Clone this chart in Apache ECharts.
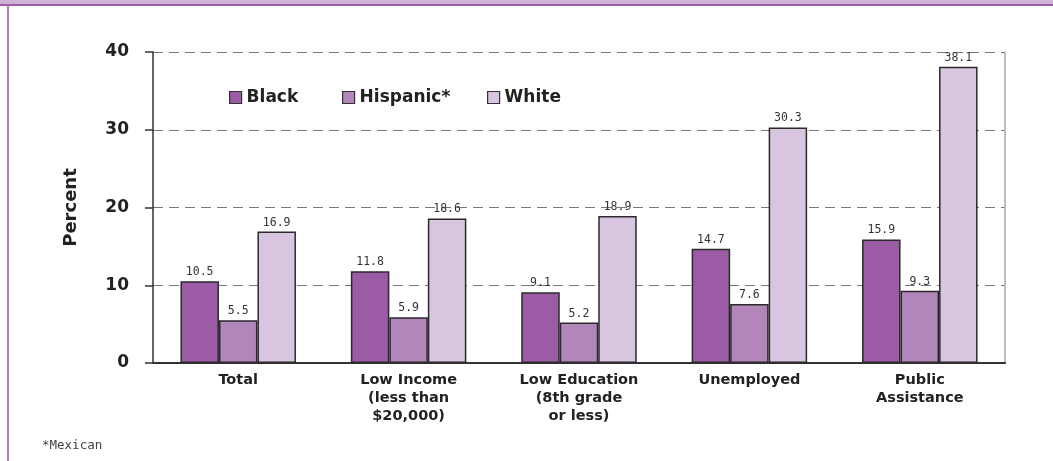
<!DOCTYPE html>
<html><head><meta charset="utf-8">
<script src="https://cdn.jsdelivr.net/npm/echarts@6/dist/echarts.min.js"></script>
<style>html,body{margin:0;padding:0;background:#fff}#c{width:1053px;height:461px}</style>
</head><body><div id="c"></div>
<script>
const categories = ['Total', 'Low Income\n(less than\n$20,000)', 'Low Education\n(8th grade\nor less)', 'Unemployed', 'Public\nAssistance'];
const black = [10.5, 11.8, 9.1, 14.7, 15.9];
const hispanic = [5.5, 5.9, 5.2, 7.6, 9.3];
const white = [16.9, 18.6, 18.9, 30.3, 38.1];
const seriesNames = ['Black', 'Hispanic*', 'White'];
const yTicks = [0, 10, 20, 30, 40];

const colors = ['#9b5ba5', '#b386bb', '#d8c5e0'];
const chart = echarts.init(document.getElementById('c'));
const labelStyle = {show: true, position: 'top', distance: 3, fontFamily: 'DejaVu Sans Mono', fontSize: 11.5, color: '#333'};
function mk(name, data, i) {
  return {name, type: 'bar', data, barWidth: 38.5, barGap: '0%',
    itemStyle: {color: colors[i], borderColor: '#2a2a2a', borderWidth: 1.5},
    label: labelStyle, emphasis: {disabled: true}};
}
const legendText = {fontFamily: 'DejaVu Sans', fontWeight: 'bold', fontSize: 17, color: '#222'};
function lg(name, left) {
  return {data: [name], left, top: 84, itemWidth: 12, itemHeight: 12, itemGap: 7, icon: 'rect',
    textStyle: legendText, selectedMode: false,
    itemStyle: {borderColor: '#333', borderWidth: 1.2}};
}
chart.setOption({
  animation: false,
  grid: {left: 153, right: 48, top: 52, bottom: 98},
  legend: [lg('Black', 224), lg('Hispanic*', 337), lg('White', 482)],
  xAxis: {type: 'category', data: categories,
    axisLine: {lineStyle: {color: '#333', width: 2}},
    axisTick: {show: false},
    axisLabel: {interval: 0, margin: 8, fontFamily: 'DejaVu Sans', fontWeight: 'bold', fontSize: 14.5, color: '#222', lineHeight: 18, align: 'center'}},
  yAxis: [{type: 'value', min: 0, max: 40, interval: 10,
    name: 'Percent', nameLocation: 'middle', nameGap: 73, nameRotate: 90,
    nameTextStyle: {fontFamily: 'DejaVu Sans', fontWeight: 'bold', fontSize: 18, color: '#222'},
    axisLine: {show: true, lineStyle: {color: '#333', width: 1.5}},
    axisTick: {show: true, inside: false, length: 8, lineStyle: {color: '#333', width: 1.5}},
    axisLabel: {margin: 24, fontFamily: 'DejaVu Sans', fontWeight: 'bold', fontSize: 17, color: '#222',
      formatter: v => yTicks.includes(v) ? String(v) : ''},
    splitLine: {show: true, lineStyle: {color: '#777', type: [10, 6], width: 1.2}}},
   {type: 'value', min: 0, max: 40, interval: 10, position: 'right',
    axisLine: {show: true, lineStyle: {color: '#aaa', width: 1.5}},
    axisTick: {show: false}, axisLabel: {show: false}, splitLine: {show: false}}],
  series: [mk(seriesNames[0], black, 0), mk(seriesNames[1], hispanic, 1), mk(seriesNames[2], white, 2)],
  graphic: [
    {type: 'rect', shape: {x: 0, y: 0, width: 1053, height: 4}, style: {fill: '#cfb2d8'}},
    {type: 'rect', shape: {x: 0, y: 4, width: 1053, height: 2}, style: {fill: '#9b5ba5'}},
    {type: 'rect', shape: {x: 7, y: 5, width: 2, height: 456}, style: {fill: '#b07cc0'}},
    {type: 'text', left: 42, top: 439, style: {text: '*Mexican', font: '12.5px "DejaVu Sans Mono"', fill: '#444'}}
  ]
});
</script></body></html>
